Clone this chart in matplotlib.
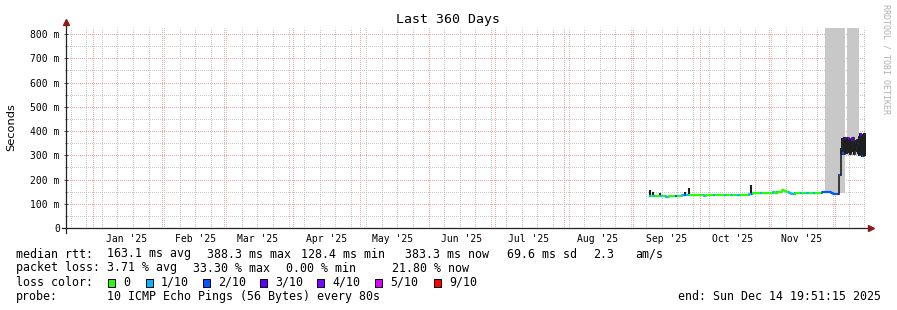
import numpy as np
import pandas as pd
import matplotlib
matplotlib.use('Agg')
import matplotlib.pyplot as plt
import matplotlib.dates as mdates
import matplotlib.patches as mpatches
from matplotlib.ticker import FuncFormatter, MultipleLocator

# rango del grafico (360 dias)
t_end = pd.Timestamp('2025-12-14 19:51:15')
t_start = t_end - pd.Timedelta(days=360)

# mediana diaria (ms) y perdida (x/10), 8 sep -> 2 dic
daily_start = '2025-09-08'
median_daily = [133, 132, 131, 131, 132, 133, 131, 131, 128, 131, 131, 132, 133, 132, 133,
                135, 136, 138, 136, 135, 135, 135, 135,
                135, 135, 134, 135, 135, 135, 135, 135, 135, 135, 135, 135, 135, 135, 135,
                135, 135, 135, 135, 135, 135, 135, 139, 141, 146, 145, 145, 145, 145, 145,
                145, 145, 145, 147, 146, 147, 150, 156, 152, 148, 146, 139, 141, 145, 145,
                145, 145, 145, 145, 145, 145, 145, 145, 145, 145,
                147, 147, 147, 147, 143, 142, 142]
loss_daily = [1, 0, 1, 0, 0, 1, 0, 0, 1, 0, 0, 0, 2, 0, 0,
              1, 2, 1, 0, 0, 0, 0, 0,
              0, 0, 1, 0, 0, 0, 1, 0, 0, 0, 0, 1, 0, 0, 1,
              0, 0, 1, 0, 0, 0, 0, 1, 2, 0, 0, 0, 1, 0, 0,
              0, 0, 0, 1, 0, 0, 0, 0, 0, 0, 1, 1, 1, 0, 0,
              1, 0, 0, 1, 0, 0, 1, 0, 0, 0,
              2, 2, 2, 2, 2, 2, 2]

# ultimo tramo cada 12 h desde el 2 dic 18:00
tail_start = '2025-12-02 18:00'
median_tail = [220, 220, 320, 310, 305, 372, 366, 318, 372, 366, 306, 362, 370,
               305, 352, 332, 362, 348, 302, 386, 378, 296, 384, 300, 383]
loss_tail = [2, 2, 2, 2, 2, 3, 3, 2, 3, 4, 2, 3, 3,
             2, 2, 2, 3, 2, 2, 4, 3, 2, 4, 2, 2]
smoke_tail_lo = [np.nan, np.nan, 305, 300, 300, 305, 310, 305, 310, 308, 300, 310, 312,
                 300, 318, 320, 315, 305, 295, 300, 300, 292, 295, 295, 298]
smoke_tail_hi = [np.nan, np.nan, 330, 372, 375, 376, 374, 372, 375, 370, 365, 368, 372,
                 360, 360, 362, 365, 360, 380, 392, 390, 388, 392, 390, 388]

# humo puntual (picos)
spike_dates = ['2025-09-08 12:00', '2025-09-09 20:00', '2025-09-13 00:00', '2025-09-24 12:00',
               '2025-09-26 00:00', '2025-10-24 00:00', '2025-11-05 00:00', '2025-11-13 00:00']
spike_lo = [128, 130, 131, 134, 134, 140, 142, 137]
spike_hi = [156, 148, 146, 148, 166, 178, 154, 150]

# humo gris claro
shade_start = ['2025-11-26 09:00', '2025-12-06 03:00']
shade_end = ['2025-12-05 10:00', '2025-12-11 17:00']
shade_lo = [143, 300]

loss_labels = ['0', '1/10', '2/10', '3/10', '4/10', '5/10', '9/10']
loss_colors = ['#26ff00', '#00b8ff', '#0059ff', '#5e00ff', '#7e00ff', '#dd00ff', '#ff0000']
loss_index = {0: 0, 1: 1, 2: 2, 3: 3, 4: 4, 5: 5, 9: 6}
loss_sq_x = [108, 146, 203, 260, 317, 375, 434]

month_labels = ["Jan '25", "Feb '25", "Mar '25", "Apr '25", "May '25", "Jun '25",
                "Jul '25", "Aug '25", "Sep '25", "Oct '25", "Nov '25"]

W, H = 897, 310
mono = 'DejaVu Sans Mono'

fig = plt.figure(figsize=(W / 100, H / 100), dpi=100)
ax = fig.add_axes([66 / W, (H - 228) / H, 800 / W, 200 / H])
ax.set_xlim(mdates.date2num(t_start), mdates.date2num(t_end))
ax.set_ylim(0, 0.825)
for s in ax.spines.values():
    s.set_visible(False)

# rejilla punteada (1 px si / 1 px no)
dot = (0.5, (1, 1))
minor_c = '#c8c8c8'
major_c = '#f2a4a4'
gkw = dict(lw=0.72, ls=dot, zorder=0)
for v in np.arange(0.05, 0.85, 0.1):
    ax.axhline(v, color=minor_c, **gkw)
for d in pd.date_range('2024-12-22', t_end, freq='7D'):
    ax.axvline(mdates.date2num(d), color=minor_c, **gkw)
for v in np.arange(0.1, 0.85, 0.1):
    ax.axhline(v, color=major_c, **gkw)
for d in pd.date_range('2025-01-01', t_end, freq='MS'):
    ax.axvline(mdates.date2num(d), color=major_c, **gkw)

# humo gris
for a, b, lo in zip(shade_start, shade_end, shade_lo):
    ax.fill_between([mdates.date2num(pd.Timestamp(a)), mdates.date2num(pd.Timestamp(b))],
                    lo / 1000, 1.0, color='#c8c8c8', lw=0, zorder=1)

# series
t_daily = pd.date_range(daily_start, periods=len(median_daily), freq='D')
t_tail = pd.date_range(tail_start, periods=len(median_tail), freq='12h')
times = mdates.date2num(list(t_daily) + list(t_tail))
vals = np.array(median_daily + median_tail) / 1000
loss = loss_daily + loss_tail

# humo oscuro
ax.vlines(mdates.date2num(pd.to_datetime(spike_dates)), np.array(spike_lo) / 1000,
          np.array(spike_hi) / 1000, color='#1e1e1e', lw=1.5, zorder=2)
ax.vlines(mdates.date2num(t_tail), np.array(smoke_tail_lo) / 1000,
          np.array(smoke_tail_hi) / 1000, color='#1e1e1e', lw=1.4, zorder=2)

# mediana coloreada por perdida (escalones)
for i in range(len(vals)):
    t0 = times[i]
    t1 = times[i + 1] if i + 1 < len(vals) else mdates.date2num(t_end)
    c = loss_colors[loss_index[loss[i]]]
    ax.plot([t0, t1], [vals[i], vals[i]], color=c, lw=1.6, solid_capstyle='butt', zorder=3)
    if i + 1 < len(vals):
        jump = abs(vals[i + 1] - vals[i])
        cc = '#1e1e1e' if jump > 0.01 else loss_colors[loss_index[loss[i + 1]]]
        ax.plot([t1, t1], [vals[i], vals[i + 1]], color=cc, lw=1.2, zorder=3)

# ejes con flechas
ax.plot([-4 / 800, 1.004], [0, 0], color='#222222', lw=0.9, transform=ax.transAxes,
        clip_on=False, zorder=4)
ax.plot([0, 0], [-5 / 200, 1.025], color='#222222', lw=0.9, transform=ax.transAxes,
        clip_on=False, zorder=4)
ax.plot([1.006], [0], marker='>', ms=4, color='#8b1c1c', transform=ax.transAxes,
        clip_on=False, zorder=5)
ax.plot([0], [1.03], marker='^', ms=4, color='#8b1c1c', transform=ax.transAxes,
        clip_on=False, zorder=5)

# ticks
ax.yaxis.set_major_locator(MultipleLocator(0.1))
ax.yaxis.set_minor_locator(MultipleLocator(0.05))
ax.yaxis.set_major_formatter(FuncFormatter(lambda v, p: '0' if abs(v) < 1e-9 else f'{v * 1000:.0f} m'))
ax.tick_params(axis='y', which='major', direction='inout', length=3, width=0.7,
               color='#444444', pad=3, labelsize=7)
ax.tick_params(axis='y', which='minor', direction='inout', length=2, width=0.6, color='#444444')
mid = [mdates.date2num(pd.Timestamp(f'2025-{m:02d}-16')) for m in range(1, len(month_labels) + 1)]
ax.set_xticks(mid)
ax.set_xticklabels(month_labels)
ax.tick_params(axis='x', length=0, pad=4, labelsize=7)
for lb in ax.get_xticklabels() + ax.get_yticklabels():
    lb.set_family(mono)

# textos
def fx(x):
    return x / W

def fy(y):
    return 1 - y / H

fig.text(fx(448), fy(19), 'Last 360 Days', ha='center', va='center', family=mono, fontsize=9.5)
fig.text(fx(11), fy(127), 'Seconds', rotation=90, ha='center', va='center',
         family='DejaVu Sans', fontsize=8.2)
fig.text(fx(886), fy(4), 'RRDTOOL / TOBI OETIKER', rotation=-90, ha='center', va='top',
         family=mono, fontsize=6, color='#b0b0b0')

fs = 8.4
base = [257.5, 271.5, 285.7, 300]
row1 = ['median rtt:', '163.1 ms avg', '388.3 ms max', '128.4 ms min', '383.3 ms now',
        '69.6 ms sd', '2.3', 'am/s']
row1_x = [16, 107, 207, 301, 405, 507, 593, 635]
row2 = ['packet loss:', '3.71 % avg', '33.30 % max', '0.00 % min', '21.80 % now']
row2_x = [16, 107, 193, 286, 392]
for txt, x in zip(row1, row1_x):
    fig.text(fx(x), fy(base[0]), txt, va='baseline', family=mono, fontsize=fs)
for txt, x in zip(row2, row2_x):
    fig.text(fx(x), fy(base[1]), txt, va='baseline', family=mono, fontsize=fs)

fig.text(fx(16), fy(base[2]), 'loss color:', va='baseline', family=mono, fontsize=fs)
for lab, c, sx in zip(loss_labels, loss_colors, loss_sq_x):
    fig.patches.append(mpatches.Rectangle((fx(sx), fy(286.5)), 7 / W, 7.5 / H,
                                          transform=fig.transFigure, facecolor=c,
                                          edgecolor='black', lw=0.7))
    fig.text(fx(sx + 15), fy(base[2]), lab, va='baseline', family=mono, fontsize=fs)

fig.text(fx(16), fy(base[3]), 'probe:', va='baseline', family=mono, fontsize=fs)
fig.text(fx(107), fy(base[3]), '10 ICMP Echo Pings (56 Bytes) every 80s', va='baseline',
         family=mono, fontsize=fs)
fig.text(fx(881), fy(base[3]), 'end: Sun Dec 14 19:51:15 2025', ha='right', va='baseline',
         family=mono, fontsize=fs)

fig.savefig('out.png', dpi=100)
